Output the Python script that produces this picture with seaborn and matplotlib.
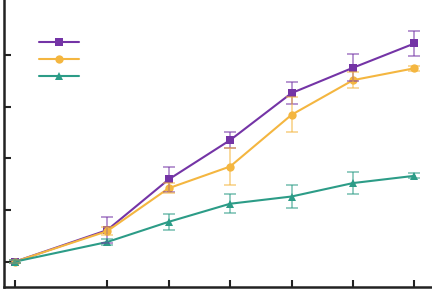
import numpy as np
import pandas as pd
import matplotlib
matplotlib.use("Agg")
import matplotlib.pyplot as plt
import seaborn as sns
from matplotlib.lines import Line2D

days = [0, 3, 5, 7, 9, 11, 13]
series_names = ["A", "B", "C"]
purple_vals = [0.0, 0.61, 1.59, 2.35, 3.26, 3.75, 4.22]
purple_err = [0.03, 0.25, 0.25, 0.15, 0.22, 0.26, 0.25]
orange_vals = [0.0, 0.59, 1.42, 1.84, 2.84, 3.51, 3.74]
orange_err = [0.03, 0.08, 0.10, 0.36, 0.34, 0.15, 0.05]
green_vals = [0.0, 0.38, 0.77, 1.12, 1.26, 1.52, 1.66]
green_err = [0.03, 0.06, 0.15, 0.18, 0.23, 0.21, 0.05]

colors = ["#7434A6", "#F4B640", "#2C9C87"]
markers = ["s", "o", "^"]

df = pd.DataFrame({
    "day": days * 3,
    "value": purple_vals + orange_vals + green_vals,
    "series": sum([[n] * len(days) for n in series_names], []),
})

sns.set_style("ticks")
fig = plt.figure(figsize=(4.32, 2.90), dpi=100)
ax = fig.add_axes([3.5 / 432, 3 / 290, 428.5 / 432, 287 / 290])

sns.lineplot(data=df, x="day", y="value", hue="series", style="series",
             palette=colors, markers=markers, dashes=False, markersize=6,
             linewidth=1.5, markeredgewidth=0, ax=ax, legend=False)

for vals, errs, c in zip([purple_vals, orange_vals, green_vals],
                         [purple_err, orange_err, green_err], colors):
    ax.errorbar(days, vals, yerr=errs, fmt="none", ecolor=c, elinewidth=1.2,
                capsize=4, capthick=1.2, alpha=0.6)

ax.set_xlim(-0.374, 13.57)
ax.set_ylim(-0.49, 5.06)
ax.set_xticks(days)
ax.set_yticks([0, 1, 2, 3, 4])
ax.tick_params(direction="in", length=5, width=1.5, color="#222222",
               labelleft=False, labelbottom=False)
ax.set_xlabel("")
ax.set_ylabel("")
for s in ["top", "right"]:
    ax.spines[s].set_visible(False)
for s in ["left", "bottom"]:
    ax.spines[s].set_linewidth(1.8)
    ax.spines[s].set_color("#222222")

handles = [Line2D([], [], color=c, marker=m, markersize=6, linewidth=1.5,
                  markeredgewidth=0) for c, m in zip(colors, markers)]
ax.legend(handles, ["", "", ""], frameon=False, loc="upper left",
          bbox_to_anchor=(0.07, 0.894), handlelength=2.9, handletextpad=0,
          labelspacing=0.22, borderaxespad=0)

fig.savefig("out.png", dpi=100)
